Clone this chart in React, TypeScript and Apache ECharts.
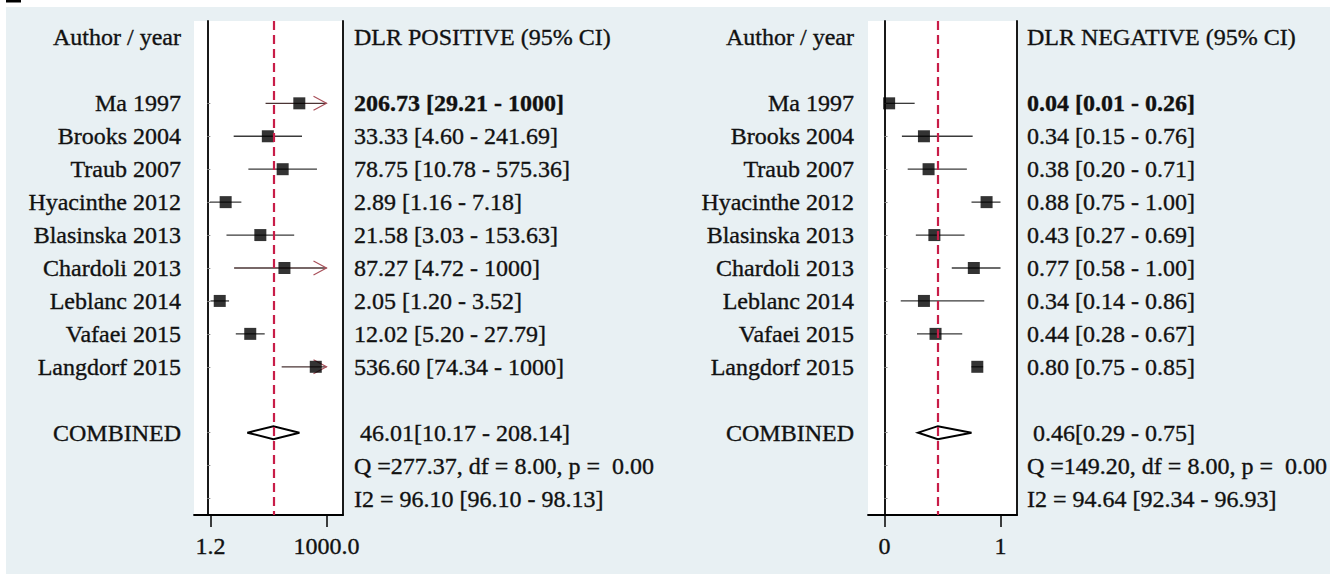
import React, { useEffect, useRef } from 'react';
import * as echarts from 'echarts';

// ---------- data ----------
const studies = [
  'Ma 1997', 'Brooks 2004', 'Traub 2007', 'Hyacinthe 2012', 'Blasinska 2013',
  'Chardoli 2013', 'Leblanc 2014', 'Vafaei 2015', 'Langdorf 2015',
];
const headerLeft = 'Author / year';
const pooledLabel = 'COMBINED';

const posTitle = 'DLR POSITIVE (95% CI)';
const posEst = [206.73, 33.33, 78.75, 2.89, 21.58, 87.27, 2.05, 12.02, 536.6];
const posLow = [29.21, 4.6, 10.78, 1.16, 3.03, 4.72, 1.2, 5.2, 74.34];
const posHigh = [1000, 241.69, 575.36, 7.18, 153.63, 1000, 3.52, 27.79, 1000];
const posPooled = [46.01, 10.17, 208.14];
const posQ = 'Q =277.37, df = 8.00, p =\u00A0\u00A00.00';
const posI2 = 'I2 = 96.10 [96.10 - 98.13]';
const posTicks = [1.2, 1000];
const posTickLabels = ['1.2', '1000.0'];

const negTitle = 'DLR NEGATIVE (95% CI)';
const negEst = [0.04, 0.34, 0.38, 0.88, 0.43, 0.77, 0.34, 0.44, 0.8];
const negLow = [0.01, 0.15, 0.2, 0.75, 0.27, 0.58, 0.14, 0.28, 0.75];
const negHigh = [0.26, 0.76, 0.71, 1.0, 0.69, 1.0, 0.86, 0.67, 0.85];
const negPooled = [0.46, 0.29, 0.75];
const negQ = 'Q =149.20, df = 8.00, p =\u00A0\u00A00.00';
const negI2 = 'I2 = 94.64 [92.34 - 96.93]';
const negTicks = [0, 1];
const negTickLabels = ['0', '1'];

const truncateAt = 1000; // upper CI display limit (arrow drawn)

// ---------- styling ----------
const FONT = "'Liberation Serif', 'Times New Roman', serif";
const FS = 24;
const TXT = '#111';
const BG = '#e8f0f3';
const REF_RED = '#c81d48';
const ARROW = '#a9505a';
const TXT_STROKE = { textBorderColor: TXT, textBorderWidth: 0.35 };

const fmt = (v: number) => (v >= truncateAt ? String(truncateAt) : v.toFixed(2));

type Panel = {
  title: string; est: number[]; low: number[]; high: number[]; pooled: number[];
  q: string; i2: string; ticks: number[]; tickLabels: string[];
  tf: (v: number) => number; left: number; valMargin: number; nameMargin: number;
};

function buildPanel(p: Panel, gi: number) {
  const rowIdx = (i: number) => i + 2;
  const pooledRow = studies.length + 3;
  const leftLabels = [headerLeft, '', ...studies, '', pooledLabel, '', ''];
  const rightLabels = [
    p.title, '',
    ...p.est.map((e, i) => `${fmt(e)} [${fmt(p.low[i])} - ${fmt(p.high[i])}]`),
    '',
    `\u00A0${fmt(p.pooled[0])}[${fmt(p.pooled[1])} - ${fmt(p.pooled[2])}]`,
    p.q, p.i2,
  ];
  const cats = leftLabels.map((_, i) => String(i));
  const a = p.tf(p.ticks[0]);
  const b = p.tf(p.ticks[1]);
  const pad = ((b - a) * 16.5) / 116;
  const tickVals = p.ticks.map(p.tf);

  const grid = {
    left: p.left, top: 21, width: 149, height: 494, containLabel: false,
    outerBoundsMode: 'none',
    show: true, backgroundColor: '#fff', borderWidth: 0,
  };
  const xAxis = {
    gridIndex: gi, type: 'value', min: a - pad, max: b + pad,
    splitLine: { show: false },
    axisLine: { show: true, onZero: false, lineStyle: { color: '#000', width: 1.8 } },
    axisTick: { show: true, customValues: tickVals, length: 12, lineStyle: { color: '#000', width: 1.5 } },
    axisLabel: {
      show: true, customValues: tickVals, margin: 19, fontFamily: FONT, fontSize: FS, color: TXT,
      ...TXT_STROKE,
      formatter: (v: number) => {
        let best = 0;
        tickVals.forEach((t, i) => { if (Math.abs(t - v) < Math.abs(tickVals[best] - v)) best = i; });
        return p.tickLabels[best];
      },
    },
  };
  const yLeft = {
    gridIndex: gi, type: 'category', data: cats, inverse: true, position: 'left',
    axisLine: { show: true, lineStyle: { color: '#000', width: 1.8 } },
    axisTick: {
      show: true, inside: true, length: 3, alignWithLabel: true,
      interval: (i: number) => i >= 2 && i !== studies.length + 2,
      lineStyle: { color: '#888', width: 1 },
    },
    splitLine: { show: false },
    axisLabel: {
      show: true, interval: 0, margin: p.nameMargin, fontFamily: FONT, fontSize: FS, color: TXT,
      ...TXT_STROKE,
      formatter: (v: string) => leftLabels[Number(v)],
    },
  };
  const yRight = {
    gridIndex: gi, type: 'category', data: cats, inverse: true, position: 'right',
    axisLine: { show: true, lineStyle: { color: '#000', width: 1.8 } },
    axisTick: { show: false },
    splitLine: { show: false },
    axisLabel: {
      show: true, interval: 0, margin: p.valMargin, fontFamily: FONT, fontSize: FS, color: TXT,
      ...TXT_STROKE,
      formatter: (v: string) => {
        const i = Number(v);
        return i === 2 ? `{b|${rightLabels[i]}}` : rightLabels[i];
      },
      rich: { b: { fontFamily: FONT, fontSize: FS, fontWeight: 'bold', color: TXT } },
    },
  };

  const ciData = p.est.map((_, i) => [
    p.tf(p.low[i]), p.tf(p.high[i]), rowIdx(i), p.high[i] >= truncateAt ? 1 : 0,
  ]);
  const ciSeries = {
    type: 'custom', xAxisIndex: gi, yAxisIndex: gi * 2, z: 2, silent: true,
    encode: { x: [0, 1], y: 2 },
    data: ciData,
    renderItem: (_params: any, api: any) => {
      const y = api.value(2);
      const p1 = api.coord([api.value(0), y]);
      const p2 = api.coord([api.value(1), y]);
      const arrow = api.value(3) === 1;
      const children: any[] = [{
        type: 'line',
        shape: { x1: p1[0], y1: p1[1], x2: p2[0], y2: p2[1] },
        style: { stroke: arrow ? '#4a3434' : '#3a3a3a', lineWidth: 1.3 },
      }];
      if (arrow) {
        children.push({
          type: 'polyline',
          shape: { points: [[p2[0] - 13, p2[1] - 7], [p2[0], p2[1]], [p2[0] - 13, p2[1] + 7]] },
          style: { stroke: ARROW, lineWidth: 1.2, fill: 'none' },
        });
      }
      return { type: 'group', children };
    },
  };
  const pointSeries = {
    type: 'scatter', xAxisIndex: gi, yAxisIndex: gi * 2, z: 3, silent: true,
    symbol: 'rect', symbolSize: 12,
    itemStyle: { color: '#000' },
    data: p.est.map((e, i) => [p.tf(e), rowIdx(i)]),
    markLine: {
      silent: true, symbol: ['none', 'none'], z: 6,
      label: { show: false },
      lineStyle: { color: REF_RED, width: 2.2, type: [9, 5] },
      data: [{ xAxis: p.tf(p.pooled[0]) }],
    },
  };
  const diamondSeries = {
    type: 'custom', xAxisIndex: gi, yAxisIndex: gi * 2, z: 4, silent: true,
    encode: { x: [0, 1, 2], y: 3 },
    data: [[p.tf(p.pooled[0]), p.tf(p.pooled[1]), p.tf(p.pooled[2]), pooledRow]],
    renderItem: (_params: any, api: any) => {
      const y = api.value(3);
      const c = api.coord([api.value(0), y]);
      const l = api.coord([api.value(1), y]);
      const r = api.coord([api.value(2), y]);
      const h = 6.5;
      return {
        type: 'polygon',
        shape: { points: [[l[0], c[1]], [c[0], c[1] - h], [r[0], c[1]], [c[0], c[1] + h]] },
        style: { fill: '#fff', stroke: '#000', lineWidth: 2 },
      };
    },
  };
  return { grid, xAxis, yAxes: [yLeft, yRight], series: [ciSeries, pointSeries, diamondSeries] };
}

export default function App() {
  const ref = useRef<HTMLDivElement>(null);
  useEffect(() => {
    document.body.style.margin = '0';
    if (!ref.current) return;
    const chart = echarts.init(ref.current, undefined, { renderer: 'svg' });
    const left = buildPanel({
      title: posTitle, est: posEst, low: posLow, high: posHigh, pooled: posPooled,
      q: posQ, i2: posI2, ticks: posTicks, tickLabels: posTickLabels,
      tf: (v) => Math.log10(v), left: 194, valMargin: 11, nameMargin: 13,
    }, 0);
    const right = buildPanel({
      title: negTitle, est: negEst, low: negLow, high: negHigh, pooled: negPooled,
      q: negQ, i2: negI2, ticks: negTicks, tickLabels: negTickLabels,
      tf: (v) => v, left: 868, valMargin: 10, nameMargin: 14,
    }, 1);
    chart.setOption({
      animation: false,
      backgroundColor: BG,
      textStyle: { fontFamily: FONT },
      grid: [left.grid, right.grid],
      xAxis: [left.xAxis, right.xAxis],
      yAxis: [...left.yAxes, ...right.yAxes],
      series: [...left.series, ...right.series],
      graphic: [
        { type: 'rect', shape: { x: 0, y: 0, width: 1330, height: 7 }, style: { fill: '#fff' }, z: 10 },
        { type: 'rect', shape: { x: 0, y: 0, width: 6, height: 574 }, style: { fill: '#fff' }, z: 10 },
        { type: 'rect', shape: { x: 6, y: 0, width: 15, height: 2.5 }, style: { fill: '#000' }, z: 11 },
      ],
    } as any);
    return () => chart.dispose();
  }, []);
  return <div ref={ref} style={{ width: 1330, height: 574 }} />;
}
